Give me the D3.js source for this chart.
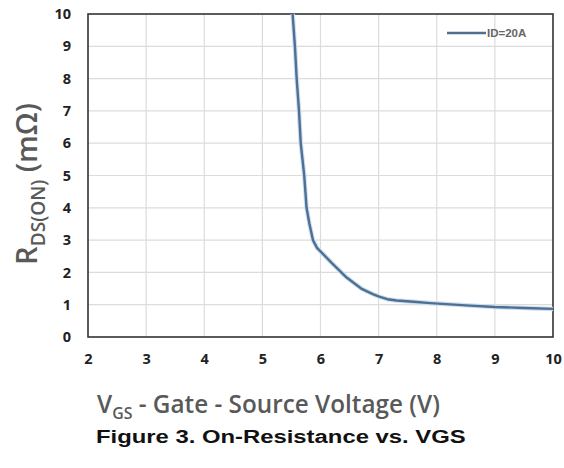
<!DOCTYPE html>
<html><head><meta charset="utf-8">
<script src="https://cdn.jsdelivr.net/npm/d3@7"></script>
<style>body{margin:0;background:#fff}svg{display:block}</style>
</head><body>
<svg id="c" width="564" height="468"></svg>
<script>
const vgs = [5.52, 5.56, 5.59, 5.63, 5.66, 5.69, 5.72, 5.74, 5.76, 5.81, 5.87, 5.94, 6.2, 6.45, 6.7, 6.9, 7.01, 7.15, 7.31, 7.6, 7.89, 8.5, 9, 9.5, 10];
const rds = [10, 9, 8, 7, 6, 5.5, 5, 4.5, 4, 3.5, 3, 2.76, 2.28, 1.84, 1.5, 1.33, 1.25, 1.17, 1.13, 1.09, 1.05, 0.98, 0.93, 0.9, 0.87];
const xTicks = [2, 3, 4, 5, 6, 7, 8, 9, 10];
const yTicks = [0, 1, 2, 3, 4, 5, 6, 7, 8, 9, 10];
const seriesName = "ID=20A";

const svg = d3.select("#c");
const L = 88, R = 553, T = 14, B = 337;
const x = d3.scaleLinear().domain([2, 10]).range([L, R]);
const y = d3.scaleLinear().domain([0, 10]).range([B, T]);

svg.append("g").selectAll("line").data(xTicks.slice(1, -1)).join("line")
  .attr("x1", d => x(d)).attr("x2", d => x(d)).attr("y1", T).attr("y2", B)
  .attr("stroke", "#dcdcdc").attr("stroke-width", 1.2);
svg.append("g").selectAll("line").data(yTicks.slice(1, -1)).join("line")
  .attr("x1", L).attr("x2", R).attr("y1", d => y(d)).attr("y2", d => y(d))
  .attr("stroke", "#dcdcdc").attr("stroke-width", 1.2);

svg.append("rect").attr("x", L).attr("y", T).attr("width", R - L).attr("height", B - T)
  .attr("fill", "none").attr("stroke", "#333").attr("stroke-width", 1.6);

const xa = svg.append("g").attr("transform", `translate(0,${B})`)
  .call(d3.axisBottom(x).tickValues(xTicks).tickFormat(d3.format("d")).tickSize(0).tickPadding(17));
const ya = svg.append("g").attr("transform", `translate(${L},0)`)
  .call(d3.axisLeft(y).tickValues(yTicks).tickFormat(d3.format("d")).tickSize(0).tickPadding(17));
[xa, ya].forEach(a => {
  a.select(".domain").remove();
  a.selectAll("text").attr("font-family", "'Open Sans', sans-serif").attr("font-weight", "bold")
    .attr("font-size", 14.5).attr("fill", "#222");
});

const data = vgs.map((v, i) => [v, rds[i]]);
const line = d3.line().x(d => x(d[0])).y(d => y(d[1]));
svg.append("path").datum(data).attr("d", line).attr("fill", "none")
  .attr("stroke", "#cddff0").attr("stroke-width", 4.5).attr("stroke-linejoin", "round");
svg.append("path").datum(data).attr("d", line).attr("fill", "none")
  .attr("stroke", "#4f6f93").attr("stroke-width", 2.4).attr("stroke-linejoin", "round");

svg.append("line").attr("x1", 447).attr("x2", 486).attr("y1", 33).attr("y2", 33)
  .attr("stroke", "#4f6f93").attr("stroke-width", 2.4);
svg.append("text").attr("x", 487).attr("y", 37).text(seriesName)
  .attr("font-family", "'Liberation Sans', Arial, sans-serif").attr("font-size", 11.5)
  .attr("font-weight", "bold").attr("fill", "#666");

const ytg = svg.append("g");
const yt = ytg.append("text").attr("x", 0).attr("y", 0)
  .attr("font-family", "'Open Sans', sans-serif")
  .attr("font-weight", "600").attr("font-size", 29).attr("fill", "#595959");
yt.append("tspan").text("R");
yt.append("tspan").text("DS(ON)").attr("font-size", 19).attr("dy", 8);
yt.append("tspan").text(" (mΩ)").attr("dy", -8);
{
  const bb = yt.node().getBBox();
  const s = 162 / bb.width;
  ytg.attr("transform", `translate(37,265) rotate(-90) scale(${s},1)`);
}

const xtg = svg.append("g");
const xt = xtg.append("text").attr("x", 0).attr("y", 0)
  .attr("font-family", "'Open Sans', sans-serif")
  .attr("font-weight", "600").attr("font-size", 26).attr("fill", "#595959");
xt.append("tspan").text("V");
xt.append("tspan").text("GS").attr("font-size", 17).attr("dy", 6);
xt.append("tspan").text(" - Gate - Source Voltage (V)").attr("dy", -6);
{
  const bb = xt.node().getBBox();
  const s = 343 / bb.width;
  xtg.attr("transform", `translate(97,413) scale(${s},1)`);
}

const cap = svg.append("text").attr("x", 0).attr("y", 0)
  .attr("font-family", "'Liberation Sans', Arial, sans-serif").attr("font-weight", "bold")
  .attr("font-size", 19).attr("fill", "#111").text("Figure 3. On-Resistance vs. VGS");
{
  const bb = cap.node().getBBox();
  const s = 370 / bb.width;
  cap.attr("transform", `translate(96,443) scale(${s},1)`);
}
</script>
</body></html>
